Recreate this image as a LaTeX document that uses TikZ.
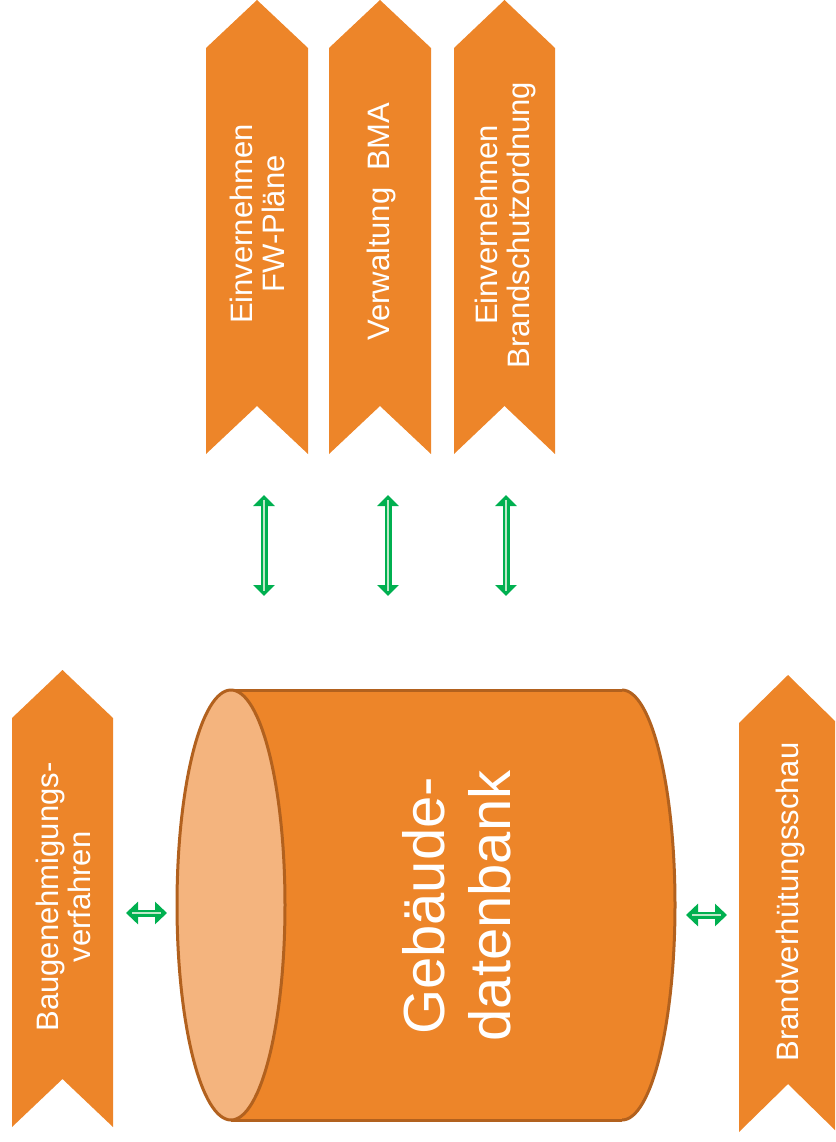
\documentclass[tikz,border=0pt]{standalone}
\usepackage{fontspec}
\setmainfont{Liberation Sans}
\usetikzlibrary{arrows.meta}
\definecolor{chevorange}{RGB}{237,133,41}
\definecolor{cyllight}{RGB}{244,180,126}
\definecolor{cylborder}{RGB}{178,97,30}
\definecolor{arrgreen}{RGB}{0,176,80}
\definecolor{arrlight}{RGB}{190,232,200}
\newcommand{\chevronshape}[4]{%
  \fill[chevorange] (#1,#3+48) -- ({(#1+#2)/2},#3) -- (#2,#3+48) -- (#2,#4) -- ({(#1+#2)/2},#4-48) -- (#1,#4) -- cycle;}
\tikzset{
  chevtext/.style={text=white, align=center, rotate=90, inner sep=0pt,
    font=\fontsize{31}{32}\selectfont},
  dbtext/.style={text=white, align=center, rotate=90, inner sep=0pt,
    font=\fontsize{58}{66}\selectfont},
  vbiarrow/.style={draw=arrgreen, line width=7pt,
    {Triangle[length=11pt,width=21pt]}-{Triangle[length=11pt,width=21pt]}},
  hbiarrow/.style={draw=arrgreen, line width=7pt,
    {Triangle[length=12pt,width=22pt]}-{Triangle[length=12pt,width=22pt]}},
  arrhighlight/.style={draw=arrlight, line width=1.2pt},
  cylline/.style={draw=cylborder, line width=3pt},
}
\begin{document}
\begin{tikzpicture}[x=1pt,y=-1pt]
\useasboundingbox (0,0) rectangle (835,1142);
\clip (0,0) rectangle (835,1142);

% top chevrons
\chevronshape{206}{308}{0}{454}
\chevronshape{329}{431}{0}{454}
\chevronshape{454}{555}{0}{454}
% side chevrons
\chevronshape{12}{113}{670}{1127}
\chevronshape{739}{837}{675}{1132}

\node[chevtext] (fw) at (257,224) {Einvernehmen\\FW-Pläne};
\node[chevtext] (bma) at (381,222) {Verwaltung\ \ BMA};
\node[chevtext] (bso) at (505,225) {Einvernehmen\\Brandschutzordnung};
\node[chevtext] (bgv) at (63,897) {Baugenehmigungs-\\verfahren};
\node[chevtext] (bvs) at (790,902) {Brandverhütungsschau};

% cylinder
\fill[chevorange] (231,690) rectangle (622,1120);
\fill[chevorange] (622,905) ellipse[x radius=53, y radius=215];
\draw[cylline] (231,690) -- (622,690);
\draw[cylline] (231,1120) -- (622,1120);
\begin{scope}
  \clip (622,600) rectangle (700,1140);
  \draw[cylline] (622,905) ellipse[x radius=53, y radius=215];
\end{scope}
\draw[cylline, fill=cyllight] (231,905) ellipse[x radius=54, y radius=215];
\node[dbtext] (db) at (457,906) {Gebäude-\\datenbank};

% arrows
\coordinate (v1a) at (264,495); \coordinate (v1b) at (264,596);
\coordinate (v2a) at (388,495); \coordinate (v2b) at (388,596);
\coordinate (v3a) at (506,495); \coordinate (v3b) at (506,596);
\coordinate (hla) at (126,913); \coordinate (hlb) at (167,913);
\coordinate (hra) at (686,915); \coordinate (hrb) at (727,915);

\foreach \a/\b in {v1a/v1b, v2a/v2b, v3a/v3b}{
  \draw[vbiarrow] (\a) -- (\b);
  \draw[arrhighlight, shorten <=5pt, shorten >=5pt] (\a) -- (\b);
}
\foreach \a/\b in {hla/hlb, hra/hrb}{
  \draw[hbiarrow] (\a) -- (\b);
  \draw[arrhighlight, shorten <=6pt, shorten >=6pt] (\a) -- (\b);
}
\end{tikzpicture}
\end{document}
